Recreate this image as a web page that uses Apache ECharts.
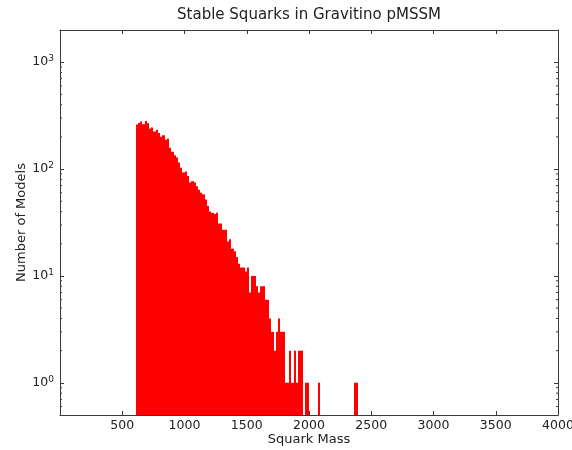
<!DOCTYPE html>
<html>
<head>
<meta charset="utf-8">
<title>Stable Squarks in Gravitino pMSSM</title>
<script src="https://cdn.jsdelivr.net/npm/echarts@6/dist/echarts.min.js"></script>
<style>
  html, body { margin: 0; padding: 0; background: #ffffff; }
  #chart { width: 572px; height: 450px; }
</style>
</head>
<body>
<div id="chart"></div>
<script>
// Histogram of stable-squark masses: 100 equal-width bins
const binStart = 608;
const binWidth = 17.87;
const counts = [
  261, 270, 278, 262, 282, 268, 240, 245, 225, 233,
  218, 201, 207, 188, 192, 158, 145, 135, 128, 115,
  103, 93, 95, 86, 75, 77, 75, 69, 64, 60,
  58, 52, 45, 40, 39, 38, 39, 31, 31, 27,
  27, 21, 22, 18, 17, 15, 13, 12, 12, 11,
  12, 7, 10, 10, 8, 7, 8, 8, 6, 6,
  4, 3, 2, 3, 4, 3, 3, 1, 1, 2,
  1, 2, 1, 2, 2, 0, 1, 1, 0, 0,
  0, 0, 1, 0, 0, 0, 0, 0, 0, 0,
  0, 0, 0, 0, 0, 0, 0, 0, 1, 1
];

// Axis ranges and tick values
const xTicks = [0, 500, 1000, 1500, 2000, 2500, 3000, 3500, 4000];
const yMin = 0.5;
const yMax = 2000;
const yMinorTicks = [
  0.6, 0.7, 0.8, 0.9,
  2, 3, 4, 5, 6, 7, 8, 9,
  20, 30, 40, 50, 60, 70, 80, 90,
  200, 300, 400, 500, 600, 700, 800, 900
];

const FONT = 'DejaVu Sans';
const INK = '#222';
const FRAME = '#3a3a3a';
const RED = '#ff0000';

// bar rectangles: [left edge, right edge, count]
const bars = [];
counts.forEach(function (c, i) {
  if (c > 0) bars.push([binStart + i * binWidth, binStart + (i + 1) * binWidth, c]);
});

const xMin = xTicks[0];
const xMax = xTicks[xTicks.length - 1];

function powLabel(v) {
  const e = Math.log10(v);
  const r = Math.round(e);
  if (Math.abs(e - r) > 1e-6) return '';
  return '10{sup|' + r + '}';
}

const xBase = {
  type: 'value', min: xMin, max: xMax, interval: 500,
  axisLine: { show: true, onZero: false, lineStyle: { color: FRAME, width: 1 } },
  axisTick: { show: true, inside: true, length: 4, lineStyle: { color: FRAME } },
  splitLine: { show: false }
};
const yBase = {
  type: 'log', logBase: 10, min: yMin, max: yMax,
  axisLine: { show: true, onZero: false, lineStyle: { color: FRAME, width: 1 } },
  axisTick: { show: true, inside: true, length: 4, lineStyle: { color: FRAME } },
  splitLine: { show: false }
};

const chart = echarts.init(document.getElementById('chart'), null, { renderer: 'canvas' });

chart.setOption({
  animation: false,
  backgroundColor: '#ffffff',
  textStyle: { fontFamily: FONT },
  title: {
    text: 'Stable Squarks in Gravitino pMSSM',
    left: 309, top: 8, padding: 0,
    textAlign: 'center',
    textStyle: { fontFamily: FONT, fontSize: 15, fontWeight: 'normal', color: INK }
  },
  grid: { left: 60, right: 14, top: 30, bottom: 35, containLabel: false, outerBoundsMode: 'none' },
  xAxis: [
    Object.assign({}, xBase, {
      position: 'bottom',
      name: 'Squark Mass', nameLocation: 'middle', nameGap: 18, nameMoveOverlap: false,
      nameTextStyle: { fontFamily: FONT, fontSize: 13, color: INK },
      axisLabel: {
        show: true, margin: 4, fontFamily: FONT, fontSize: 12.5, color: INK,
        formatter: function (v) { return v === 0 ? '' : String(v); }
      }
    }),
    Object.assign({}, xBase, { position: 'top', axisLabel: { show: false } })
  ],
  yAxis: [
    Object.assign({}, yBase, {
      position: 'left',
      name: 'Number of Models', nameLocation: 'middle', nameGap: 32, nameMoveOverlap: false,
      nameTextStyle: { fontFamily: FONT, fontSize: 13, color: INK },
      axisLabel: {
        show: true, margin: 6, fontFamily: FONT, fontSize: 12.5, color: INK,
        formatter: powLabel,
        rich: {
          sup: { fontFamily: FONT, fontSize: 9, color: INK, padding: [0, 0, 7, 0] }
        }
      }
    }),
    Object.assign({}, yBase, { position: 'right', axisLabel: { show: false } })
  ],
  series: [
    {
      type: 'custom',
      name: 'counts',
      xAxisIndex: 0, yAxisIndex: 0,
      clip: true,
      encode: { x: [0, 1], y: 2 },
      data: bars,
      renderItem: function (params, api) {
        const topLeft = api.coord([api.value(0), api.value(2)]);
        const bottomRight = api.coord([api.value(1), yMin]);
        // snap bar edges to whole pixels so neighbouring bins join cleanly
        const x0 = Math.round(topLeft[0]);
        const x1 = Math.round(bottomRight[0]);
        return {
          type: 'rect',
          shape: {
            x: x0, y: topLeft[1],
            width: Math.max(1, x1 - x0),
            height: bottomRight[1] - topLeft[1]
          },
          style: { fill: RED }
        };
      }
    },
    {
      // minor log ticks on both vertical spines
      type: 'custom',
      name: 'minorTicks',
      xAxisIndex: 0, yAxisIndex: 0,
      clip: false,
      silent: true,
      encode: { x: 0, y: 1 },
      data: yMinorTicks.map(function (v) { return [xMin, v]; }),
      renderItem: function (params, api) {
        const left = api.coord([xMin, api.value(1)]);
        const right = api.coord([xMax, api.value(1)]);
        const st = { stroke: FRAME, lineWidth: 1 };
        return {
          type: 'group',
          children: [
            { type: 'line', shape: { x1: left[0], y1: left[1], x2: left[0] + 2, y2: left[1] }, style: st },
            { type: 'line', shape: { x1: right[0], y1: right[1], x2: right[0] - 2, y2: right[1] }, style: st }
          ]
        };
      }
    }
  ]
});
</script>
</body>
</html>
